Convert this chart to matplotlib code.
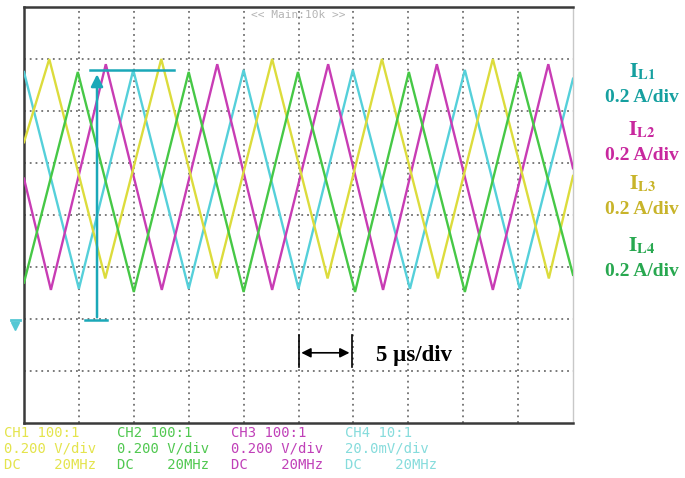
import matplotlib
matplotlib.use('Agg')
from matplotlib import pyplot as plt

plt.rcParams['mathtext.fontset'] = 'stix'

# vertex positions of the four inductor currents (x in divisions, y in divisions from bottom)
il1_t = [0, 1.0, 1.99, 3.0, 4.0, 5.0, 5.99, 7.03, 8.03, 9.03, 10.0]
il1_y = [6.75, 2.58, 6.79, 2.58, 6.79, 2.58, 6.79, 2.58, 6.79, 2.58, 6.62]

il2_t = [0, 0.49, 1.49, 2.51, 3.52, 4.52, 5.54, 6.54, 7.52, 8.54, 9.55, 10.0]
il2_y = [4.7, 2.56, 6.9, 2.56, 6.9, 2.56, 6.9, 2.56, 6.9, 2.56, 6.9, 4.9]

il3_t = [0, 0.46, 1.48, 2.50, 3.51, 4.52, 5.53, 6.52, 7.54, 8.54, 9.56, 10.0]
il3_y = [5.4, 7.0, 2.78, 7.0, 2.78, 7.0, 2.78, 7.0, 2.78, 7.0, 2.78, 4.75]

il4_t = [0, 0.98, 2.0, 3.0, 4.0, 4.99, 6.03, 7.01, 8.03, 9.03, 10.0]
il4_y = [2.7, 6.75, 2.52, 6.75, 2.52, 6.75, 2.52, 6.75, 2.52, 6.75, 2.85]

trace_colors = ['#55d0da', '#c83cb4', '#dcdc3c', '#46c846']
label_colors = ['#16a0a0', '#c8289e', '#c8b42a', '#28a850']
labels = ['L1', 'L2', 'L3', 'L4']

ch_names = ['CH1 100:1', 'CH2 100:1', 'CH3 100:1', 'CH4 10:1']
ch_scales = ['0.200 V/div', '0.200 V/div', '0.200 V/div', '20.0mV/div']
ch_colors = ['#e4e44c', '#50c850', '#c040b8', '#86dcdc']

fig = plt.figure(figsize=(6.85, 4.78), dpi=100)
ax = fig.add_axes([24 / 685, 55 / 478, 549 / 685, 416 / 478])
ax.set_xlim(0, 10)
ax.set_ylim(0, 8)
ax.set_xticks([])
ax.set_yticks([])

# dotted graticule
for gx in range(1, 10):
    ax.axvline(gx, color='#707070', lw=1.3, ls=(0, (1, 2.2)), zorder=1)
for gy in range(1, 8):
    ax.axhline(gy, color='#707070', lw=1.3, ls=(0, (1, 2.2)), zorder=1)

for sp in ['left', 'top', 'bottom']:
    ax.spines[sp].set_color('#3a3a3a')
    ax.spines[sp].set_linewidth(1.8)
ax.spines['right'].set_color('#c8c8c8')
ax.spines['right'].set_linewidth(1.0)

series = [(il1_t, il1_y), (il2_t, il2_y), (il3_t, il3_y), (il4_t, il4_y)]
for (t, y), c in zip(series, trace_colors):
    ax.plot(t, y, color=c, lw=1.7, zorder=3, solid_joinstyle='miter')

# ripple measurement marker
mc = '#1aa8b8'
ax.plot([1.2, 2.73], [6.79, 6.79], color=mc, lw=1.8, zorder=4)
ax.plot([1.11, 1.51], [1.98, 1.98], color=mc, lw=1.8, zorder=4)
ax.annotate('', xy=(1.33, 6.76), xytext=(1.33, 1.98),
            arrowprops=dict(arrowstyle='-|>', color=mc, lw=1.8, mutation_scale=18), zorder=4)

# time scale marker
ax.plot([5.0, 5.0], [1.07, 1.69], color='black', lw=1.2, zorder=4)
ax.plot([5.98, 5.98], [1.07, 1.69], color='black', lw=1.2, zorder=4)
ax.annotate('', xy=(5.0, 1.35), xytext=(5.98, 1.35),
            arrowprops=dict(arrowstyle='<|-|>', color='black', lw=1.2, mutation_scale=14), zorder=4)
ax.text(6.42, 1.3, '5 µs/div', family='Liberation Serif', fontweight='bold',
        fontsize=16.5, ha='left', va='center', zorder=5)

ax.text(5.0, 7.84, '<< Main:10k >>', family='DejaVu Sans Mono', fontsize=8,
        color='#b4b4b4', ha='center', va='center')

# ground reference marker (drawn as a shape)
gc = '#55c8d4'
ax.plot([-0.24, -0.08], [1.98, 1.98], color=gc, lw=2, clip_on=False)
ax.plot([-0.16], [1.86], marker='v', color=gc, ms=6, clip_on=False)

# right side labels
label_y = [72, 130, 184, 246]
for lab, c, yy in zip(labels, label_colors, label_y):
    fig.text(642 / 685, 1 - yy / 478, r'$\mathbf{I}_{\mathbf{' + lab + '}}$', color=c,
             fontsize=15, ha='center', va='center')
    fig.text(642 / 685, 1 - (yy + 25) / 478, '0.2 A/div', color=c, family='Liberation Serif',
             fontweight='bold', fontsize=14, ha='center', va='center')

# channel info below the screen
ch_x = [4, 117, 231, 345]
for name, scale, c, xx in zip(ch_names, ch_scales, ch_colors, ch_x):
    for txt, yy in zip([name, scale, 'DC    20MHz'], [433, 449, 465]):
        fig.text(xx / 685, 1 - yy / 478, txt, color=c, family='DejaVu Sans Mono',
                 fontsize=10, ha='left', va='center')

fig.savefig('out.png', dpi=100)
